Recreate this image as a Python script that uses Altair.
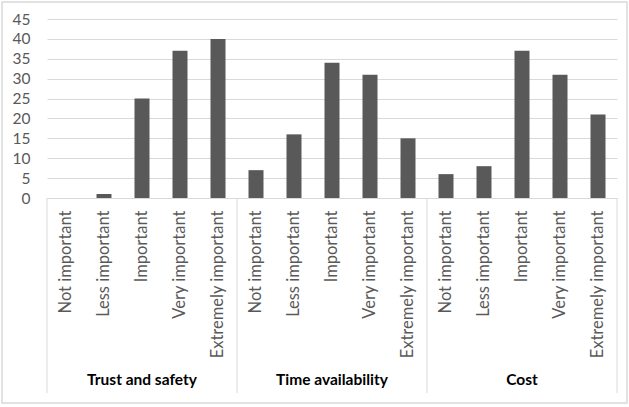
import altair as alt
import pandas as pd

# Survey: importance ratings per factor
groups = ["Trust and safety", "Time availability", "Cost"]
levels = ["Not important", "Less important", "Important", "Very important", "Extremely important"]
trust_safety = [0, 1, 25, 37, 40]
time_availability = [7, 16, 34, 31, 15]
cost = [6, 8, 37, 31, 21]
y_ticks = [0, 5, 10, 15, 20, 25, 30, 35, 40, 45]

series = [trust_safety, time_availability, cost]
rows = []
for g, vals in zip(groups, series):
    for lvl, v in zip(levels, vals):
        rows.append({"group": g, "level": lvl, "key": f"{g}|{lvl}", "value": v})
df = pd.DataFrame(rows)
keys = list(df["key"])

W, H = 570, 179
FONT = "Lato"
GRID = "#d9d9d9"
BAR = "#595959"

x_enc = alt.X(
    "key:N",
    sort=keys,
    scale=alt.Scale(paddingInner=0, paddingOuter=0),
    axis=alt.Axis(
        title=None,
        labelExpr="split(datum.label, '|')[1]",
        labelAngle=270,
        labelAlign="right",
        labelBaseline="middle",
        labelPadding=12,
        labelFontSize=16.5,
        labelFont=FONT,
        labelColor=BAR,
        ticks=False,
        domainColor=GRID,
        grid=False,
        labelLimit=200,
    ),
)

bars = alt.Chart(df).mark_bar(size=15, color=BAR).encode(
    x=x_enc,
    y=alt.Y(
        "value:Q",
        scale=alt.Scale(domain=[0, 45], nice=False),
        axis=alt.Axis(
            title=None,
            values=y_ticks,
            domain=False,
            ticks=False,
            gridColor=GRID,
            gridWidth=1,
            labelPadding=17,
            labelFontSize=15.5,
            labelFont=FONT,
            labelColor=BAR,
        ),
    ),
)

# vertical separators between the factor groups on the category axis
first_keys = pd.DataFrame({"key": [f"{g}|{levels[0]}" for g in groups]})
last_key = pd.DataFrame({"key": [f"{groups[-1]}|{levels[-1]}"]})
sep_left = alt.Chart(first_keys).mark_rule(color=GRID, strokeWidth=1).encode(
    x=alt.X("key:N", sort=keys, bandPosition=0),
    y=alt.value(H),
    y2=alt.value(H + 195),
)
sep_right = alt.Chart(last_key).mark_rule(color=GRID, strokeWidth=1).encode(
    x=alt.X("key:N", sort=keys, bandPosition=1),
    y=alt.value(H),
    y2=alt.value(H + 195),
)

# factor names under each group
mid_keys = pd.DataFrame({"key": [f"{g}|{levels[2]}" for g in groups], "group": groups})
group_labels = alt.Chart(mid_keys).mark_text(
    font=FONT, fontSize=15.5, fontWeight="bold", color="#000000", baseline="middle"
).encode(
    x=alt.X("key:N", sort=keys),
    y=alt.value(H + 182),
    text="group:N",
)

# outer chart frame
frame = alt.Chart(pd.DataFrame({"a": [0]})).mark_rect(
    fillOpacity=0, stroke=GRID, strokeWidth=1.5
).encode(
    x=alt.value(-45),
    x2=alt.value(W + 10),
    y=alt.value(-17),
    y2=alt.value(H + 205),
)

chart = (
    alt.layer(frame, bars, sep_left, sep_right, group_labels)
    .properties(
        width=W,
        height=H,
        autosize=alt.AutoSizeParams(type="none"),
        padding={"left": 47, "top": 19, "right": 12, "bottom": 209},
        background="#ffffff",
    )
    .configure_view(stroke=None)
)

chart.save("out.html", embed_options={"renderer": "svg", "actions": False})
